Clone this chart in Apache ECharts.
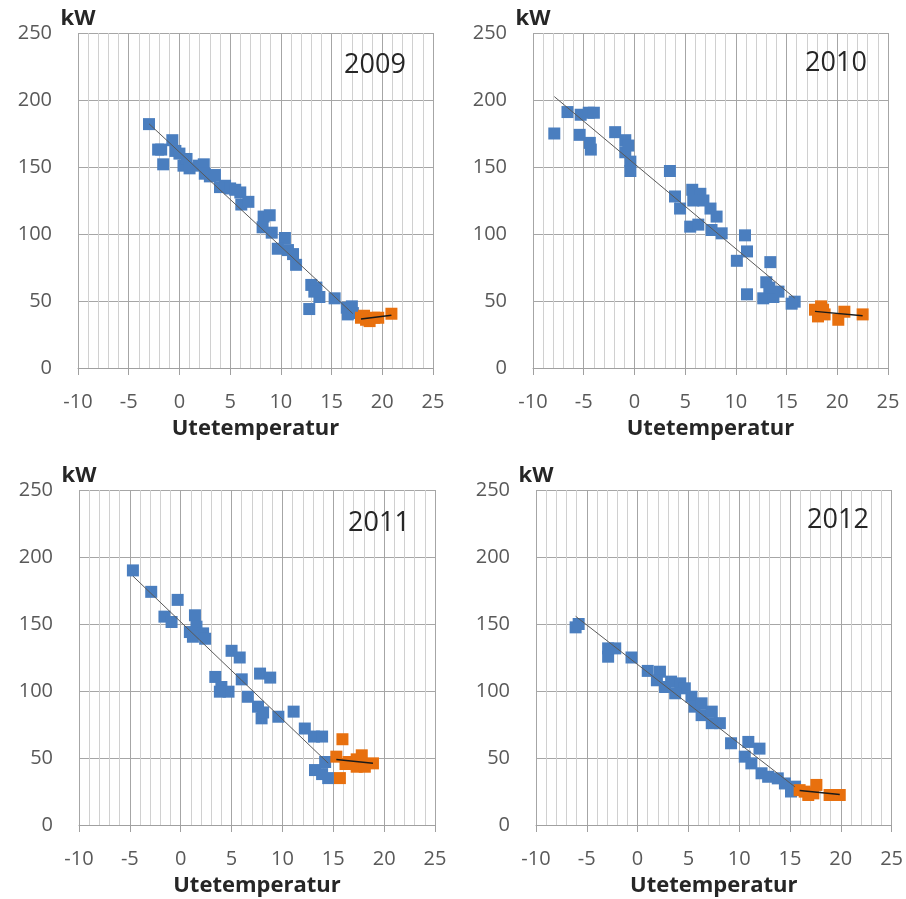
<!DOCTYPE html>
<html>
<head>
<meta charset="utf-8">
<title>Effekt mot utetemperatur</title>
<script src="https://cdn.jsdelivr.net/npm/echarts/dist/echarts.min.js"></script>
<style>
  html, body { margin: 0; padding: 0; background: #fff; }
  #chart { width: 906px; height: 899px; }
</style>
</head>
<body>
<div id="chart"></div>
<script>
// values: [Utetemperatur, kW]
var years = ["2009", "2010", "2011", "2012"];

var heat2009 = [[-3.0,182],[-2.1,163],[-1.8,163],[-1.6,152],[-0.7,170],[-0.4,162],[0.0,160],[0.4,151],[0.7,156],[1.0,149],
  [1.9,151],[2.4,152],[2.5,145],[3.0,143],[3.5,144],[4.0,135],[4.5,136],[5.0,134],[5.5,133],[6.0,131],[6.1,122],[6.8,124],
  [8.3,113],[8.9,114],[8.2,105],[9.1,101],[10.4,97],[9.7,89],[10.7,88],[11.2,85],[11.5,77],[13.0,62],[13.5,60],[13.8,53],
  [13.3,57],[15.3,52],[12.8,44],[16.5,45],[17.0,46],[16.6,40],[17.1,41]];
var summer2009 = [[17.9,37.5],[18.2,39],[18.4,36],[18.75,35],[19.2,37.5],[19.6,37.5],[20.9,40.5]];

var heat2010 = [[-7.9,175],[-6.6,191],[-5.3,189],[-4.5,190.5],[-4.0,190.5],[-5.4,174],[-4.4,168],[-4.3,163],[-1.9,176],
  [-0.9,170],[-0.9,161],[-0.6,166],[-0.4,154],[-0.4,147],[3.5,147],[4.0,128],[4.5,119],[5.7,133],[6.5,130],[6.8,125],
  [5.8,125],[7.5,119],[8.1,113],[5.5,105.5],[6.3,107],[7.6,103],[8.6,100.5],[10.9,99],[11.1,87],[10.1,80],[13.4,79],
  [11.1,55],[13.0,64],[12.7,52],[13.7,53],[14.2,57],[13.3,60],[15.8,49.5],[15.5,48]];
var summer2010 = [[17.8,43.5],[18.4,46],[18.1,38.5],[18.75,40],[18.6,43.5],[20.1,36],[20.7,42],[22.5,40]];

var heat2011 = [[-4.7,190],[-2.9,174],[-0.3,168],[-1.6,155.5],[-0.9,151.5],[1.4,156.5],[0.9,144],[1.55,148],[2.2,143],
  [2.4,139],[1.2,140.5],[5.0,130],[5.8,125],[3.4,110.5],[4.0,103],[4.7,99.5],[3.85,99.5],[6.0,108.7],[7.8,113],[8.8,110],
  [6.6,95.7],[7.6,88.3],[7.95,79.6],[8.1,84],[9.6,80.8],[11.1,84.6],[12.2,72],[13.1,66],[13.9,66],[13.2,41],[14.2,47],
  [14.5,35],[13.9,38]];
var summer2011 = [[15.9,64],[15.3,51],[15.65,35],[16.5,47],[17.3,49],[17.8,52],[17.3,43.5],[18.1,43.5],[18.9,46],[16.2,45.5]];

var heat2012 = [[-6.1,147.5],[-5.8,150],[-2.9,131.8],[-2.9,125.6],[-2.2,131.8],[-0.6,125],[1.0,115],[2.2,114.4],[1.9,108],
  [2.7,103],[3.3,107],[4.2,105.7],[4.65,102],[3.7,98.3],[5.3,95.7],[5.6,88.3],[6.3,90.8],[6.3,82],[7.3,84.6],[8.1,76],
  [7.3,76],[9.2,61],[10.9,62],[12.0,57],[10.55,51],[11.2,46],[12.2,38.6],[12.85,36],[13.8,34.8],[14.5,31],[15.1,25],[15.5,28.6]];
var summer2012 = [[16.45,24.9],[17.3,23.6],[17.6,29.9],[16.8,22.4],[18.9,22.4],[19.9,22.4],[15.95,26]];

var heatData = [heat2009, heat2010, heat2011, heat2012];
var summerData = [summer2009, summer2010, summer2011, summer2012];

// linear trendline (least squares) over the x range of the points
function trend(pts) {
  var n = pts.length, sx = 0, sy = 0, sxx = 0, sxy = 0;
  var lo = Infinity, hi = -Infinity;
  pts.forEach(function (p) {
    sx += p[0]; sy += p[1]; sxx += p[0] * p[0]; sxy += p[0] * p[1];
    lo = Math.min(lo, p[0]); hi = Math.max(hi, p[0]);
  });
  var b = (n * sxy - sx * sy) / (n * sxx - sx * sx);
  var a = (sy - b * sx) / n;
  return [[lo, a + b * lo], [hi, a + b * hi]];
}

var font = "Open Sans";
var grids = [
  { left: 78, top: 33, width: 355, height: 335 },
  { left: 533, top: 33, width: 355, height: 335 },
  { left: 79, top: 490, width: 356, height: 335 },
  { left: 536, top: 490, width: 356, height: 335 }
];
var yearPos = [[375, 65], [836, 63], [379, 523], [838, 520]];

var xAxes = [], yAxes = [], series = [], graphics = [];

grids.forEach(function (g, i) {
  xAxes.push({
    type: "value", gridIndex: i, min: -10, max: 25, interval: 5,
    name: "Utetemperatur", nameLocation: "middle", nameGap: 50,
    nameTextStyle: { fontFamily: font, fontSize: 22, fontWeight: "bold", color: "#262626" },
    axisLine: { show: true, onZero: false, lineStyle: { color: "#a0a0a0", width: 1 } },
    axisTick: { show: true, inside: false, length: 7, lineStyle: { color: "#a0a0a0" } },
    axisLabel: { fontFamily: font, fontSize: 20, color: "#595959", margin: 24 },
    splitLine: { show: true, lineStyle: { color: "#a6a6a6", width: 1 } },
    minorTick: { show: false, splitNumber: 5 },
    minorSplitLine: { show: true, lineStyle: { color: "#d0d0d0", width: 1 } }
  });
  yAxes.push({
    type: "value", gridIndex: i, min: 0, max: 250, interval: 50,
    name: "kW", nameLocation: "end", nameGap: 3,
    nameTextStyle: { fontFamily: font, fontSize: 22, fontWeight: "bold", color: "#262626", align: "center" },
    axisLine: { show: false, onZero: false },
    axisTick: { show: false },
    axisLabel: { fontFamily: font, fontSize: 20, color: "#595959", margin: 26 },
    splitLine: { show: true, lineStyle: { color: "#a6a6a6", width: 1 } }
  });
  series.push({
    type: "scatter", xAxisIndex: i, yAxisIndex: i, symbol: "rect", symbolSize: 12,
    itemStyle: { color: "#4a7ebf", opacity: 1 }, data: heatData[i], z: 2
  });
  series.push({
    type: "scatter", xAxisIndex: i, yAxisIndex: i, symbol: "rect", symbolSize: 12,
    itemStyle: { color: "#e8700e", opacity: 1 }, data: summerData[i], z: 2
  });
  series.push({
    type: "line", xAxisIndex: i, yAxisIndex: i, symbol: "none", silent: true,
    lineStyle: { color: "#595959", width: 1 }, data: trend(heatData[i]), z: 3
  });
  series.push({
    type: "line", xAxisIndex: i, yAxisIndex: i, symbol: "none", silent: true,
    lineStyle: { color: "#1a1a1a", width: 1.5 }, data: trend(summerData[i]), z: 3
  });
  graphics.push({
    type: "text", x: yearPos[i][0], y: yearPos[i][1], z: 10,
    style: { text: years[i], fontFamily: font, fontSize: 27, fill: "#262626",
      textAlign: "center", textVerticalAlign: "middle" }
  });
});

var chart = echarts.init(document.getElementById("chart"));
chart.setOption({
  animation: false,
  backgroundColor: "#fff",
  grid: grids,
  xAxis: xAxes,
  yAxis: yAxes,
  series: series,
  graphic: graphics
});
</script>
</body>
</html>
